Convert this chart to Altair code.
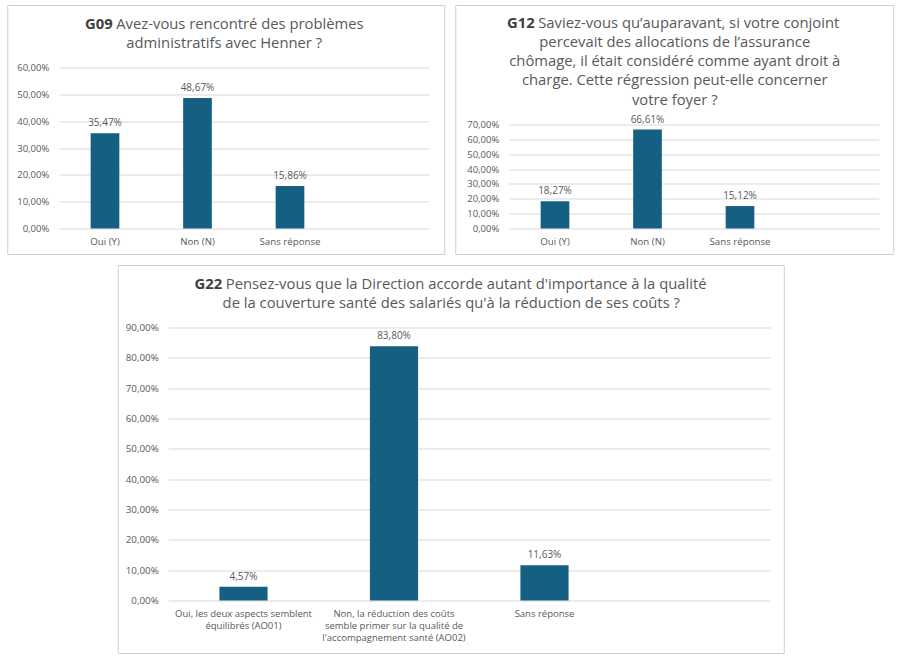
import altair as alt
import pandas as pd

# ---- survey results -------------------------------------------------------
g09_answers = ["Oui (Y)", "Non (N)", "Sans réponse"]
g09_share = [0.3547, 0.4867, 0.1586]
g09_ticks = [0.0, 0.1, 0.2, 0.3, 0.4, 0.5, 0.6]
g09_code = "G09"
g09_title = ["Avez-vous rencontré des problèmes",
             "administratifs avec Henner ?"]

g12_answers = ["Oui (Y)", "Non (N)", "Sans réponse"]
g12_share = [0.1827, 0.6661, 0.1512]
g12_ticks = [0.0, 0.1, 0.2, 0.3, 0.4, 0.5, 0.6, 0.7]
g12_code = "G12"
g12_title = ["Saviez-vous qu’auparavant, si votre conjoint",
             "percevait des allocations de l’assurance",
             "chômage, il était considéré comme ayant droit à",
             "charge. Cette régression peut-elle concerner",
             "votre foyer ?"]

g22_answers = ["Oui, les deux aspects semblent\néquilibrés (AO01)",
               "Non, la réduction des coûts\nsemble primer sur la qualité de\nl'accompagnement santé (AO02)",
               "Sans réponse"]
g22_share = [0.0457, 0.8380, 0.1163]
g22_ticks = [0.0, 0.1, 0.2, 0.3, 0.4, 0.5, 0.6, 0.7, 0.8, 0.9]
g22_code = "G22"
g22_title = ["Pensez-vous que la Direction accorde autant d'importance à la qualité",
             "de la couverture santé des salariés qu'à la réduction de ses coûts ?"]

# ---- styling --------------------------------------------------------------
FONT = "Open Sans"
BAR = "#156082"
TXT = "#595959"
TITLE_BOLD = "#404040"
GRID = "#d9d9d9"
FRAME = "#d0d0d0"
TITLE_SIZE = 14.8
TITLE_STEP = 19.3
GAP = 3.5

PCT = "replace(format({v}, '.2%'), '.', ',')"


def title_layers(code, lines, junction, center, y_first):
    """Bold question code + question text, drawn as text marks."""
    layers = [
        alt.Chart(pd.DataFrame({"t": [code]})).mark_text(
            align="right", baseline="middle", font=FONT, fontSize=TITLE_SIZE,
            fontWeight="bold", color=TITLE_BOLD,
        ).encode(x=alt.value(junction), y=alt.value(y_first), text="t:N"),
        alt.Chart(pd.DataFrame({"t": [lines[0]]})).mark_text(
            align="left", baseline="middle", font=FONT, fontSize=TITLE_SIZE,
            color=TXT,
        ).encode(x=alt.value(junction + GAP), y=alt.value(y_first), text="t:N"),
    ]
    for i, line in enumerate(lines[1:], start=1):
        layers.append(
            alt.Chart(pd.DataFrame({"t": [line]})).mark_text(
                align="center", baseline="middle", font=FONT,
                fontSize=TITLE_SIZE, color=TXT,
            ).encode(x=alt.value(center), y=alt.value(y_first + i * TITLE_STEP),
                     text="t:N")
        )
    return layers


def panel(answers, shares, ticks, y_top, code, title, width, height, pad_inner,
          frame, junction, center, title_y, x_label_size, y_label_size):
    df = pd.DataFrame({"answer": answers, "share": shares})
    domain = answers + [" "]  # empty fourth slot on the category axis

    x = alt.X(
        "answer:N", sort=domain,
        scale=alt.Scale(domain=domain, paddingInner=pad_inner,
                        paddingOuter=pad_inner / 2),
        axis=alt.Axis(title=None, labelAngle=0, grid=False, domain=False,
                      ticks=False, labelPadding=8, labelFontSize=x_label_size,
                      labelLineHeight=12, labelColor=TXT, labelFont=FONT,
                      labelExpr="split(datum.label, '\\n')"),
    )
    y = alt.Y(
        "share:Q",
        scale=alt.Scale(domain=[0, y_top], nice=False, zero=True),
        axis=alt.Axis(title=None, values=ticks, grid=True, gridColor=GRID,
                      domain=False, ticks=False, labelPadding=10,
                      labelFontSize=y_label_size, labelColor=TXT,
                      labelFont=FONT,
                      labelExpr=PCT.format(v="datum.value")),
    )

    bars = alt.Chart(df).mark_bar(color=BAR).encode(x=x, y=y)
    values = alt.Chart(df).transform_calculate(
        lbl=PCT.format(v="datum.share")
    ).mark_text(
        baseline="bottom", dy=-5, font=FONT, fontSize=10, color=TXT
    ).encode(x=x, y=y, text="lbl:N")

    x0, x1, y0, y1 = frame
    box = alt.Chart(pd.DataFrame({"k": [0]})).mark_rect(
        fill="transparent", stroke=FRAME, strokeWidth=1
    ).encode(x=alt.value(x0), x2=alt.value(x1), y=alt.value(y0), y2=alt.value(y1))

    return alt.layer(
        box, bars, values, *title_layers(code, title, junction, center, title_y)
    ).properties(width=width, height=height)


p09 = panel(g09_answers, g09_share, g09_ticks, 0.6, g09_code, g09_title,
            width=370, height=161, pad_inner=0.69,
            frame=(-51, 386, -62, 187), junction=54, center=165.5, title_y=-43,
            x_label_size=9.7, y_label_size=9.5)

# G12 shares the G09 plot height; its 0-70 % axis fills the lower 104 px,
# leaving room above for the five-line question.
p12 = panel(g12_answers, g12_share, g12_ticks, 0.7 * 161 / 104, g12_code,
            g12_title, width=370, height=161, pad_inner=0.69,
            frame=(-53, 385, -62, 187), junction=26, center=166, title_y=-44,
            x_label_size=9.7, y_label_size=9.5)

p22 = panel(g22_answers, g22_share, g22_ticks, 0.9, g22_code, g22_title,
            width=602, height=273, pad_inner=0.68,
            frame=(-50, 616, -62, 326), junction=54, center=283, title_y=-43,
            x_label_size=9.5, y_label_size=9.8)

chart = alt.vconcat(
    alt.hconcat(p09, p12, spacing=9),
    p22,
    spacing=9,
    center=True,
).properties(
    padding={"left": 6.5, "top": 4.5, "right": 5, "bottom": 5},
    background="white",
).configure_view(stroke=None)

chart.save("out.html", embed_options={"renderer": "svg", "actions": False})
